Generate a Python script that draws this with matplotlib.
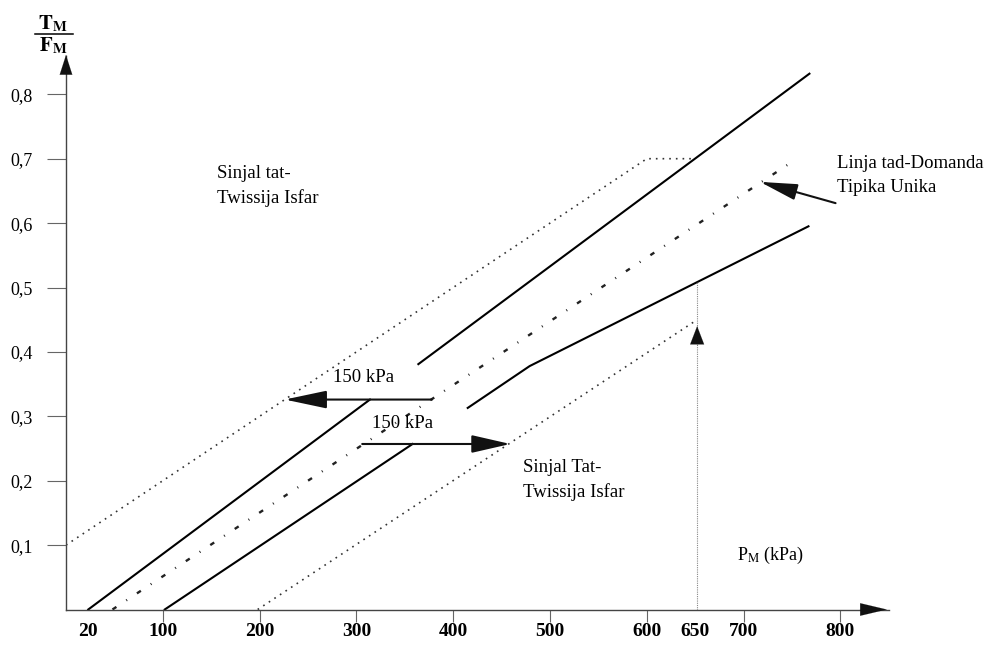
import matplotlib.pyplot as plt
from matplotlib.lines import Line2D

plt.rcParams['font.family'] = ['Liberation Serif', 'DejaVu Serif']
plt.rcParams['mathtext.fontset'] = 'stix'

# --- data (x in kPa, y = T_M / F_M) ---
upper_bound_x = [0, 600, 648]
upper_bound_y = [0.10, 0.70, 0.70]

upper_solid_a_x = [23, 314]
upper_solid_a_y = [0.0, 0.326]
upper_solid_b_x = [364, 768]
upper_solid_b_y = [0.381, 0.832]

typical_x = [48, 755]
typical_y = [0.0, 0.70]

lower_solid_a_x = [102, 358]
lower_solid_a_y = [0.0, 0.257]
lower_solid_b_x = [415, 479, 767]
lower_solid_b_y = [0.313, 0.378, 0.595]

lower_bound_x = [198, 648]
lower_bound_y = [0.0, 0.446]

pm_x = 652
pm_top = 0.508
pm_arrow_tip = 0.44

shift_left = (378, 226, 0.326)    # x from, x to, y
shift_right = (306, 459, 0.257)

x_ticks = [100, 200, 300, 400, 500, 600, 700, 800]
x_extra = [23, 650]
x_extra_labels = ['20', '650']
y_ticks = [0.1, 0.2, 0.3, 0.4, 0.5, 0.6, 0.7, 0.8]
y_labels = ['0,1', '0,2', '0,3', '0,4', '0,5', '0,6', '0,7', '0,8']

xmax, ymax = 850, 0.861

fig = plt.figure(figsize=(9.98, 6.46), dpi=100)
ax = fig.add_axes([66 / 998, 36.5 / 646, 0.968 * xmax / 998, 644 * ymax / 646])
ax.set_xlim(0, xmax)
ax.set_ylim(0, ymax)

for s in ['top', 'right']:
    ax.spines[s].set_visible(False)
for s in ['left', 'bottom']:
    ax.spines[s].set_linestyle((0, (1, 1)))
    ax.spines[s].set_linewidth(1.0)
    ax.spines[s].set_color('#444444')

# ticks
ax.set_xticks(x_ticks)
ax.set_xticks(x_extra, labels=x_extra_labels, minor=True)
ax.set_yticks(y_ticks, labels=y_labels)
ax.tick_params(axis='x', which='major', length=8.5, width=0.8, color='#666666',
               pad=1, labelsize=14)
ax.tick_params(axis='x', which='minor', length=0, pad=9.5, labelsize=14)
ax.tick_params(axis='y', length=14, width=0.8, color='#666666', pad=10, labelsize=13)
for lab in ax.get_xticklabels(which='both'):
    lab.set_fontweight('bold')

# curves
dotted = dict(color='#333333', lw=1.2, ls=(0, (1, 3)))
solid = dict(color='black', lw=1.5)
ax.plot(upper_bound_x, upper_bound_y, **dotted)
ax.plot(lower_bound_x, lower_bound_y, **dotted)
ax.plot(upper_solid_a_x, upper_solid_a_y, **solid)
ax.plot(upper_solid_b_x, upper_solid_b_y, **solid)
ax.plot(lower_solid_a_x, lower_solid_a_y, **solid)
ax.plot(lower_solid_b_x, lower_solid_b_y, **solid)
ax.plot(typical_x, typical_y, color='#222222', lw=1.7, ls=(0, (2, 5, 0.4, 5)))

# P_M = 650 kPa reading line
ax.plot([pm_x, pm_x], [0, pm_top], color='#888888', lw=0.8, ls=(0, (1, 1)))


def arrow(x0, y0, x1, y1, hl, hw, lw=1.5):
    ax.annotate('', xy=(x1, y1), xytext=(x0, y0), annotation_clip=False,
                arrowprops=dict(arrowstyle=f'-|>,head_length={hl},head_width={hw}',
                                mutation_scale=10, color='#111111', lw=lw,
                                shrinkA=0, shrinkB=0))


arrow(pm_x, pm_arrow_tip - 0.03, pm_x, pm_arrow_tip, 1.3, 0.5, lw=0.1)
arrow(shift_left[0], shift_left[2], shift_left[1], shift_left[2], 2.6, 0.55)
arrow(shift_right[0], shift_right[2], shift_right[1], shift_right[2], 2.4, 0.55)
arrow(795, 0.631, 717, 0.664, 2.3, 0.5)

# axis arrow heads
arrow(xmax - 30, 0, xmax - 2, 0, 1.9, 0.45, lw=0.1)
arrow(0, ymax - 0.03, 0, ymax, 1.4, 0.45, lw=0.1)

# annotations
fs = 13.5


def label(x, y, lines, step=0.039):
    for i, t in enumerate(lines):
        ax.text(x, y - i * step, t, fontsize=fs, ha='left', va='baseline')


label(156, 0.670, ['Sinjal tat-', 'Twissija Isfar'])
label(472, 0.2135, ['Sinjal Tat-', 'Twissija Isfar'])
label(797, 0.6856, ['Linja tad-Domanda', 'Tipika Unika'], step=0.0373)
label(276, 0.353, ['150 kPa'])
label(316, 0.282, ['150 kPa'])
ax.text(693, 0.077, r'P$_{\mathrm{M}}$ (kPa)', fontsize=13, ha='left', va='baseline')

# y-axis quantity label T_M / F_M
fig.text(53 / 998, 1 - 29 / 646, r'$\mathbf{T}_{\mathbf{M}}$', fontsize=15,
         ha='center', va='baseline')
fig.text(53 / 998, 1 - 51 / 646, r'$\mathbf{F}_{\mathbf{M}}$', fontsize=15,
         ha='center', va='baseline')
fig.add_artist(Line2D([35 / 998, 73 / 998], [1 - 34 / 646] * 2,
                      transform=fig.transFigure, color='black', lw=1.1))

fig.savefig('out.png', dpi=100)
